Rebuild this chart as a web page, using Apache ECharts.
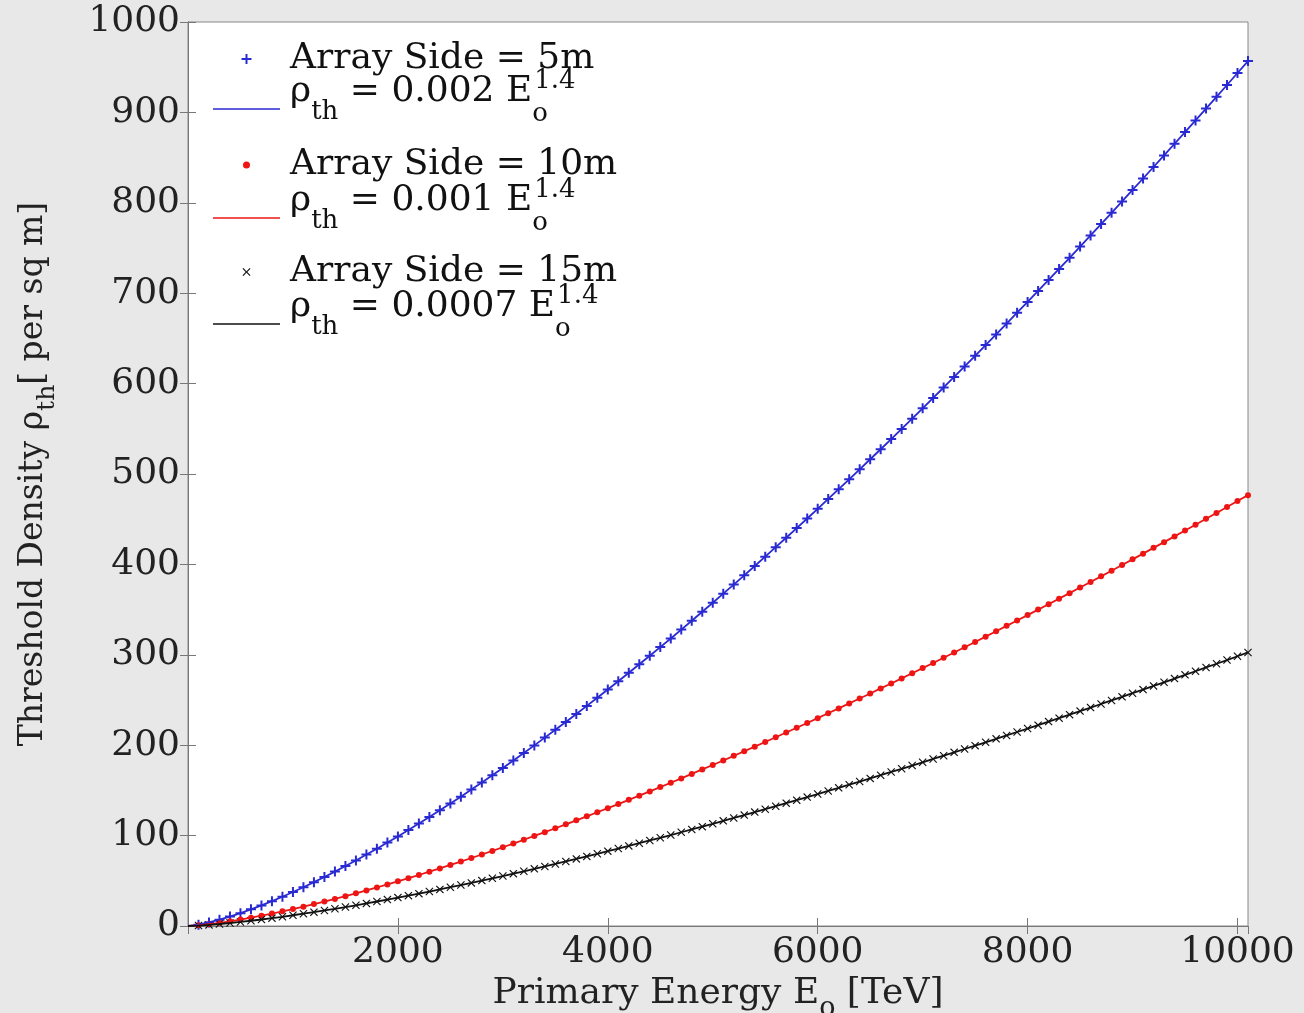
<!DOCTYPE html>
<html>
<head>
<meta charset="utf-8">
<script src="https://cdn.jsdelivr.net/npm/echarts@6/dist/echarts.min.js"></script>
<style>
    html, body { margin: 0; padding: 0; background: #e8e8e8; }
    #chart { width: 1304px; height: 1013px; }
</style>
</head>
<body>
<div id="chart"></div>
<script>
// primary energy [TeV]
var energy = [100, 200, 300, 400, 500, 600, 700, 800, 900, 1000,
    1100, 1200, 1300, 1400, 1500, 1600, 1700, 1800, 1900, 2000,
    2100, 2200, 2300, 2400, 2500, 2600, 2700, 2800, 2900, 3000,
    3100, 3200, 3300, 3400, 3500, 3600, 3700, 3800, 3900, 4000,
    4100, 4200, 4300, 4400, 4500, 4600, 4700, 4800, 4900, 5000,
    5100, 5200, 5300, 5400, 5500, 5600, 5700, 5800, 5900, 6000,
    6100, 6200, 6300, 6400, 6500, 6600, 6700, 6800, 6900, 7000,
    7100, 7200, 7300, 7400, 7500, 7600, 7700, 7800, 7900, 8000,
    8100, 8200, 8300, 8400, 8500, 8600, 8700, 8800, 8900, 9000,
    9100, 9200, 9300, 9400, 9500, 9600, 9700, 9800, 9900, 10000, 10100];

// threshold density, array side 5 m
var side5 = [1.5, 3.9, 7.0, 10.4, 14.2, 18.4, 22.8, 27.5, 32.4, 37.6,
    42.9, 48.5, 54.2, 60.2, 66.3, 72.5, 79.0, 85.5, 92.3, 99.1,
    106.1, 113.3, 120.6, 128.0, 135.5, 143.1, 150.9, 158.8, 166.8, 174.9,
    183.1, 191.4, 199.8, 208.4, 217.0, 225.7, 234.6, 243.5, 252.5, 261.6,
    270.8, 280.1, 289.5, 299.0, 308.5, 318.1, 327.9, 337.7, 347.6, 357.6,
    367.6, 377.7, 387.9, 398.2, 408.6, 419.1, 429.5, 440.2, 450.8, 461.5,
    472.4, 483.2, 494.1, 505.2, 516.3, 527.4, 538.6, 549.9, 561.2, 572.7,
    584.2, 595.7, 607.4, 619.0, 630.8, 642.6, 654.4, 666.4, 678.4, 690.4,
    702.5, 714.7, 726.9, 739.2, 751.6, 763.9, 776.5, 788.9, 801.5, 814.2,
    826.9, 839.6, 852.4, 865.3, 878.2, 891.1, 904.2, 917.2, 930.3, 943.6, 956.8];

// threshold density, array side 10 m
var side10 = [0.7, 2.0, 3.5, 5.2, 7.1, 9.2, 11.4, 13.7, 16.2, 18.7,
    21.4, 24.2, 27.0, 30.0, 33.0, 36.1, 39.3, 42.6, 46.0, 49.4,
    52.9, 56.4, 60.1, 63.7, 67.5, 71.3, 75.2, 79.1, 83.1, 87.1,
    91.2, 95.4, 99.6, 103.8, 108.1, 112.5, 116.9, 121.3, 125.8, 130.3,
    134.9, 139.6, 144.2, 148.9, 153.7, 158.5, 163.3, 168.2, 173.2, 178.1,
    183.1, 188.2, 193.3, 198.4, 203.5, 208.8, 214.0, 219.3, 224.6, 229.9,
    235.3, 240.7, 246.2, 251.7, 257.2, 262.8, 268.3, 273.9, 279.6, 285.3,
    291.0, 296.8, 302.6, 308.4, 314.2, 320.1, 326.0, 332.0, 337.9, 343.9,
    350.0, 356.0, 362.1, 368.2, 374.4, 380.6, 386.8, 393.0, 399.3, 405.6,
    411.9, 418.3, 424.6, 431.0, 437.5, 443.9, 450.4, 456.9, 463.5, 470.1, 476.6];

// threshold density, array side 15 m
var side15 = [0.5, 1.2, 2.2, 3.3, 4.5, 5.8, 7.2, 8.7, 10.2, 11.9,
    13.6, 15.3, 17.2, 19.0, 21.0, 22.9, 25.0, 27.1, 29.2, 31.4,
    33.6, 35.8, 38.1, 40.5, 42.9, 45.3, 47.7, 50.2, 52.8, 55.3,
    57.9, 60.5, 63.2, 65.9, 68.6, 71.4, 74.2, 77.0, 79.9, 82.8,
    85.7, 88.6, 91.6, 94.6, 97.6, 100.6, 103.7, 106.8, 109.9, 113.1,
    116.3, 119.5, 122.7, 126.0, 129.2, 132.5, 135.9, 139.2, 142.6, 146.0,
    149.4, 152.8, 156.3, 159.8, 163.3, 166.8, 170.4, 173.9, 177.5, 181.1,
    184.8, 188.4, 192.1, 195.8, 199.5, 203.2, 207.0, 210.8, 214.6, 218.4,
    222.2, 226.1, 229.9, 233.8, 237.7, 241.6, 245.6, 249.5, 253.5, 257.5,
    261.5, 265.6, 269.6, 273.7, 277.8, 281.8, 286.0, 290.1, 294.2, 298.4, 302.6];

var sideNames = ['Array Side = 5m', 'Array Side = 10m', 'Array Side = 15m'];
var fitNames = ['fit5', 'fit10', 'fit15'];
var fitCoef = ['0.002', '0.001', '0.0007'];
var colors = ['#2a2ad2', '#ee1515', '#111111'];

var FONT = 'DejaVu Serif';
var plusPath = 'path://M4,0H6V4H10V6H6V10H4V6H0V4H4Z';
var crossPath = 'path://M0,1L1,0L5,4L9,0L10,1L6,5L10,9L9,10L5,6L1,10L0,9L4,5Z';
var lineIcon = 'path://M0,0H67V1.6H0Z';

function pairs(ys) {
    return energy.map(function (e, i) { return [e, ys[i]]; });
}

// sub/superscripts are shifted with padding (middle aligned tokens)
var legendRich = {
    lead: { fontFamily: FONT, fontSize: 36, color: '#111', padding: [0, 0, 0, 5] },
    rho: { fontFamily: FONT, fontSize: 36, color: '#111', padding: [0, 0, 34, 5] },
    m: { fontFamily: FONT, fontSize: 36, color: '#111', padding: [0, 0, 34, 0] },
    sub: { fontFamily: FONT, fontSize: 26, color: '#111', padding: [6, 0, 0, 0] },
    subo: { fontFamily: FONT, fontSize: 26, color: '#111', padding: [10, 0, 0, 0], width: 2 },
    sup: { fontFamily: FONT, fontSize: 26, color: '#111', padding: [0, 0, 56, 0] }
};

function legendText(name) {
    var k = fitNames.indexOf(name);
    if (k < 0) {
        return '{lead|' + name + '}';
    }
    return '{rho|ρ}{sub|th}{m| = ' + fitCoef[k] + ' E}{subo|o}{sup|1.4}';
}

var markerLegendTop = [41, 147, 254];
var fitLegendTop = [68, 177, 283];
var markerIconSize = [10, 7, 8];

var legends = [];
for (var i = 0; i < 3; i++) {
    legends.push({
        data: [sideNames[i]],
        left: 246.5 - markerIconSize[i] / 2, top: markerLegendTop[i], padding: 0,
        itemWidth: 67, itemHeight: markerIconSize[i],
        formatter: legendText,
        textStyle: { rich: legendRich },
        selectedMode: false
    });
    legends.push({
        data: [{ name: fitNames[i], icon: lineIcon }],
        left: 213, top: fitLegendTop[i], padding: 0,
        itemWidth: 67, itemHeight: 14,
        formatter: legendText,
        textStyle: { rich: legendRich },
        selectedMode: false
    });
}

var markerSymbols = [plusPath, 'circle', crossPath];
var markerSizes = [10, 6, 8];
var seriesData = [side5, side10, side15];

var series = [];
for (var j = 0; j < 3; j++) {
    series.push({
        name: sideNames[j],
        type: 'scatter',
        symbol: markerSymbols[j],
        symbolSize: markerSizes[j],
        symbolKeepAspect: true,
        itemStyle: { color: colors[j], opacity: 1 },
        data: pairs(seriesData[j]),
        z: 2
    });
}
for (var j = 0; j < 3; j++) {
    series.push({
        name: fitNames[j],
        type: 'line',
        symbol: 'none',
        lineStyle: { color: colors[j], width: 1.8 },
        itemStyle: { color: colors[j] },
        data: [[0, 0]].concat(pairs(seriesData[j])),
        z: 3
    });
}

var axisLineStyle = { lineStyle: { color: '#777', width: 1 } };
var tickStyle = { inside: true, length: 8, lineStyle: { color: '#777' } };
var labelStyle = {
    fontFamily: FONT, fontSize: 36, color: '#222',
    formatter: function (v) { return String(v); }
};

var option = {
    backgroundColor: '#e8e8e8',
    animation: false,
    grid: {
        left: 188, right: 56, top: 22, bottom: 87,
        show: true, backgroundColor: '#ffffff', borderColor: '#888', borderWidth: 1,
        containLabel: false, outerBoundsMode: 'none'
    },
    legend: legends,
    xAxis: [{
        type: 'value', min: 0, max: 10100, interval: 2000,
        position: 'bottom',
        axisLine: axisLineStyle, axisTick: tickStyle, splitLine: { show: false },
        axisLabel: Object.assign({ margin: 9, showMinLabel: false, showMaxLabel: false }, labelStyle),
        name: '{m|Primary Energy E}{sub|o}{m| [TeV]}',
        nameLocation: 'middle', nameGap: 19,
        nameTextStyle: {
            rich: {
                m: { fontFamily: FONT, fontSize: 36, color: '#222' },
                sub: { fontFamily: FONT, fontSize: 27, color: '#222', padding: [30, 0, 0, 0] }
            }
        }
    }, {
        type: 'value', min: 0, max: 10100, interval: 2000,
        position: 'top',
        axisLine: axisLineStyle, axisTick: tickStyle, splitLine: { show: false },
        axisLabel: { show: false }
    }],
    yAxis: [{
        type: 'value', min: 0, max: 1000, interval: 100,
        position: 'left',
        axisLine: axisLineStyle, axisTick: tickStyle, splitLine: { show: false },
        axisLabel: Object.assign({ margin: 8 }, labelStyle),
        name: '{m|Threshold Density ρ}{sub|th}{m|[ per sq m]}',
        nameLocation: 'middle', nameGap: 128,
        nameTextStyle: {
            rich: {
                m: { fontFamily: FONT, fontSize: 33, color: '#222' },
                sub: { fontFamily: FONT, fontSize: 25, color: '#222', padding: [28, 0, 0, 0] }
            }
        }
    }, {
        type: 'value', min: 0, max: 1000, interval: 100,
        position: 'right',
        axisLine: axisLineStyle, axisTick: tickStyle, splitLine: { show: false },
        axisLabel: { show: false }
    }],
    series: series
};

var chart = echarts.init(document.getElementById('chart'));
chart.setOption(option);
window.addEventListener('resize', function () { chart.resize(); });
</script>
</body>
</html>
